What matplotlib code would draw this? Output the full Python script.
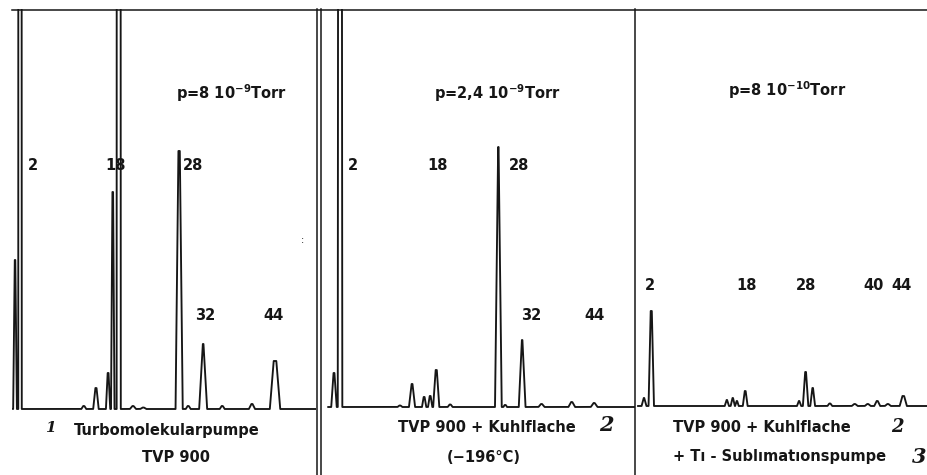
import numpy as np
import matplotlib.pyplot as plt
from matplotlib.lines import Line2D

plt.rcParams['font.family'] = ['DejaVu Sans']
plt.rcParams['mathtext.default'] = 'regular'

INK = '#161616'
W, H = 927, 475

# Panel 1: Turbomolekularpumpe, p = 8 10^-9 Torr
masses_1 = [1.17, 1.99, 12.5, 14.5, 16.5, 17.27, 18.25, 20.6, 22.3, 28.2, 29.7, 32.16, 35.3, 40.2, 44.0]
heights_1 = [149, 2000, 3, 21, 36, 217, 2000, 3, 1.5, 258, 3, 65, 3, 5, 48]
widths_1 = [0.30, 0.28, 0.4, 0.45, 0.35, 0.28, 0.33, 0.5, 0.5, 0.58, 0.4, 0.65, 0.4, 0.5, 0.85]
tops_1 = [0.05, 0.26, 0.1, 0.1, 0.08, 0.06, 0.31, 0.1, 0.1, 0.12, 0.1, 0.06, 0.1, 0.1, 0.22]
labels_1 = ['2', '18', '28', '32', '44']
label_mass_1 = [4.1, 17.8, 30.5, 32.5, 43.7]
label_level_1 = [244, 244, 244, 93, 93]

# Panel 2: TVP 900 + Kuhlflache (-196 C), p = 2,4 10^-9 Torr
masses_2 = [1.0, 2.0, 11.9, 13.9, 15.9, 16.9, 17.9, 20.2, 28.17, 29.3, 32.1, 35.3, 40.3, 44.0]
heights_2 = [34, 2000, 1.5, 23, 10, 11, 37, 2.5, 260, 2, 67, 3, 5, 4]
widths_2 = [0.45, 0.37, 0.4, 0.5, 0.35, 0.35, 0.5, 0.4, 0.55, 0.3, 0.55, 0.5, 0.55, 0.55]
tops_2 = [0.08, 0.15, 0.1, 0.08, 0.08, 0.08, 0.1, 0.1, 0.04, 0.1, 0.05, 0.1, 0.1, 0.1]
labels_2 = ['2', '18', '28', '32', '44']
label_mass_2 = [4.1, 18.2, 31.6, 33.6, 44.0]
label_level_2 = [242, 242, 242, 91, 91]

# Panel 3: + Ti-Sublimationspumpe, p = 8 10^-10 Torr
masses_3 = [0.8, 2.03, 14.8, 15.8, 16.5, 17.9, 27.0, 28.1, 29.3, 32.2, 36.4, 38.6, 40.2, 42.0, 44.6]
heights_3 = [8, 95, 6, 8, 5, 15, 5, 34, 18, 2.5, 2, 2, 5, 2, 10]
widths_3 = [0.4, 0.45, 0.35, 0.35, 0.3, 0.4, 0.35, 0.45, 0.4, 0.4, 0.5, 0.5, 0.5, 0.5, 0.6]
tops_3 = [0.05, 0.1, 0.05, 0.05, 0.05, 0.08, 0.05, 0.08, 0.06, 0.1, 0.1, 0.1, 0.1, 0.1, 0.15]
labels_3 = ['2', '18', '28', '40', '44']
label_mass_3 = [1.8, 18.2, 28.2, 39.65, 44.3]
label_level_3 = [121, 121, 121, 121, 121]

pressures = [r'p=8 10$^{-9}$Torr', r'p=2,4 10$^{-9}$Torr', r'p=8 10$^{-10}$Torr']
pressure_mass = [36.8, 28.0, 24.9]
pressure_level = [316, 314, 316]


def fx(x):
    return x / W


def fy(y):
    return 1 - y / H


def trace(ax, masses, heights, widths, tops, start):
    lo, hi = ax.get_xlim()
    x = np.linspace(max(lo, start), hi, 6000)
    y = np.zeros_like(x)
    for c, h, w, t in zip(masses, heights, widths, tops):
        y = np.maximum(y, np.interp(x, [c - w, c - t, c + t, c + w], [0, h, h, 0], left=0, right=0))
    ax.plot(x, y, color=INK, lw=1.35, solid_joinstyle='round', solid_capstyle='butt')


fig = plt.figure(figsize=(9.27, 4.75), dpi=100)

# (left px, right px, baseline px, top px, mass-0 px, px per mass unit, trace start mass)
panels = [
    (12, 316, 409, 9, 7.9, 6.07, 0.7),
    (321, 635, 407, 9, 327.9, 6.05, -0.1),
    (635, 927, 406, 10, 639.2, 5.92, -0.35),
]
series = [
    (masses_1, heights_1, widths_1, tops_1, labels_1, label_mass_1, label_level_1),
    (masses_2, heights_2, widths_2, tops_2, labels_2, label_mass_2, label_level_2),
    (masses_3, heights_3, widths_3, tops_3, labels_3, label_mass_3, label_level_3),
]

lab = dict(fontsize=10.5, weight='bold', color=INK, ha='center', va='center')
for i, ((l, r, base, top, m0, k, start), (m, h, w, t, labs, lm, ll)) in enumerate(zip(panels, series)):
    pad = 3
    ax = fig.add_axes([fx(l), fy(base + pad), fx(r) - fx(l), fy(top) - fy(base + pad)])
    ax.set_xlim((l - m0) / k, (r - m0) / k)
    ax.set_ylim(-pad, base - top)
    ax.axis('off')
    trace(ax, m, h, w, t, start)
    for s, xm, yl in zip(labs, lm, ll):
        ax.text(xm, yl, s, **lab)
    ax.text(pressure_mass[i], pressure_level[i], pressures[i], **lab)

# scan speck in panel 1
fig.text(fx(302), fy(240), ':', fontsize=7, ha='center', va='center', color=INK)

# frame lines
frame = [
    ((12, 927), (9.5, 9.5)),
    ((316.5, 316.5), (9, 475)),
    ((321, 321), (9, 475)),
    ((635, 635), (9, 475)),
]
for xs, ys in frame:
    fig.add_artist(Line2D([fx(v) for v in xs], [fy(v) for v in ys], color=INK, lw=1.1))

# captions
cap = dict(fontsize=10.5, weight='bold', color=INK, va='center')
fig.text(fx(166.5), fy(430), 'Turbomolekularpumpe', ha='center', **cap)
fig.text(fx(176), fy(457), 'TVP 900', ha='center', **cap)
fig.text(fx(487), fy(428), 'TVP 900 + Kuhlflache', ha='center', **cap)
fig.text(fx(484), fy(457), '(\u2212196\u00b0C)', ha='center', **cap)
fig.text(fx(673), fy(428), 'TVP 900 + Kuhlflache', ha='left', **cap)
fig.text(fx(673), fy(456), '+ T\u0131 - Subl\u0131mat\u0131onspumpe', ha='left', **cap)

hand = dict(family='DejaVu Serif', style='italic', weight='bold', color=INK, va='center', ha='center')
fig.text(fx(50), fy(428), '1', fontsize=11, **hand)
fig.text(fx(606), fy(425), '2', fontsize=15, **hand)
fig.text(fx(897), fy(427), '2', fontsize=13, **hand)
fig.text(fx(919), fy(457), '3', fontsize=15, **hand)

fig.savefig('out.png', dpi=100, facecolor='white')
